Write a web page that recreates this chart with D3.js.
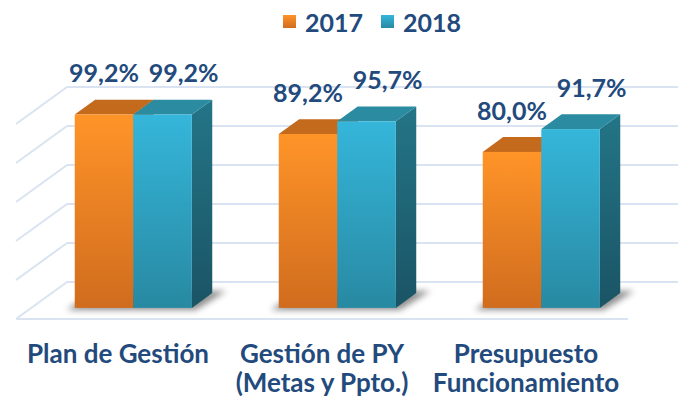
<!DOCTYPE html>
<html>
<head>
<meta charset="utf-8">
<script src="https://cdn.jsdelivr.net/npm/d3@7"></script>
<style>
  html, body { margin: 0; padding: 0; background: #ffffff; }
  svg { display: block; }
  text { font-family: Lato, "Open Sans", sans-serif; font-weight: 700; fill: #234a7d; }
</style>
</head>
<body>
<svg id="chart" width="678" height="403"></svg>
<script>
// ---- data ----
const categories = ["Plan de Gestión", "Gestión de PY\n(Metas y Ppto.)", "Presupuesto\nFuncionamiento"];
const seriesNames = ["2017", "2018"];
const values2017 = [99.2, 89.2, 80.0];
const values2018 = [99.2, 95.7, 91.7];
const valueLabels2017 = ["99,2%", "89,2%", "80,0%"];
const valueLabels2018 = ["99,2%", "95,7%", "91,7%"];
const yTicks = [0, 20, 40, 60, 80, 100];

const svg = d3.select("#chart");

// geometry of the 3D box
const floorFrontY = 319, floorLeftX = 16, floorRightX = 628;
const depthDX = 51, depthDY = -37;            // floor depth vector
const barDepthStart = 0.3, barDepthEnd = 0.7;  // bars occupy middle of depth

const x0 = d3.scaleBand().domain(categories)
  .range([floorLeftX, floorRightX]).paddingInner(0.426).paddingOuter(0.213);
const x1 = d3.scaleBand().domain(seriesNames).range([0, x0.bandwidth()]);
const yH = d3.scaleLinear().domain([0, 100]).range([0, 195]); // height in px

const colors = {
  "2017": { front: ["#ff9428", "#d06c1e"], top: "#c46a1d", side: ["#a85a18", "#8a4912"] },
  "2018": { front: ["#35b6da", "#2889a2"], top: "#2a8ba1", side: ["#237587", "#1a5465"] }
};

const defs = svg.append("defs");
seriesNames.forEach(s => {
  const gF = defs.append("linearGradient").attr("id", "front" + s)
    .attr("x1", 0).attr("y1", 0).attr("x2", 0).attr("y2", 1);
  gF.append("stop").attr("offset", "0%").attr("stop-color", colors[s].front[0]);
  gF.append("stop").attr("offset", "100%").attr("stop-color", colors[s].front[1]);
  const gS = defs.append("linearGradient").attr("id", "side" + s)
    .attr("x1", 0).attr("y1", 0).attr("x2", 0).attr("y2", 1);
  gS.append("stop").attr("offset", "0%").attr("stop-color", colors[s].side[0]);
  gS.append("stop").attr("offset", "100%").attr("stop-color", colors[s].side[1]);
});
defs.append("filter").attr("id", "blur").attr("x", "-50%").attr("y", "-50%")
  .attr("width", "200%").attr("height", "200%")
  .append("feGaussianBlur").attr("stdDeviation", 3);

// ---- gridlines ----
const grid = svg.append("g").attr("stroke", "#d9e3f2").attr("stroke-width", 2).attr("fill", "none");
const backY = v => floorFrontY + depthDY - yH(v);
yTicks.forEach(t => {
  const yb = backY(t);
  grid.append("line").attr("x1", floorLeftX + depthDX).attr("x2", floorRightX + depthDX)
    .attr("y1", yb).attr("y2", yb);
  grid.append("line").attr("x1", floorLeftX).attr("y1", yb - depthDY)
    .attr("x2", floorLeftX + depthDX).attr("y2", yb);
});
grid.append("line").attr("x1", floorLeftX).attr("x2", floorRightX)
  .attr("y1", floorFrontY).attr("y2", floorFrontY);

// ---- bars ----
const fdx = depthDX * barDepthStart, fdy = depthDY * barDepthStart;
const bdx = depthDX * (barDepthEnd - barDepthStart), bdy = depthDY * (barDepthEnd - barDepthStart);
const baseY = floorFrontY + fdy;

const rows = categories.map((c, i) => ({ c, i, v: [values2017[i], values2018[i]], l: [valueLabels2017[i], valueLabels2018[i]] }));

// shadows
const shadowG = svg.append("g").attr("filter", "url(#blur)").attr("opacity", 0.55);
rows.forEach(r => {
  const xl = x0(r.c) + fdx, xr = xl + x0.bandwidth();
  shadowG.append("path").attr("fill", "#333")
    .attr("d", `M${xl - 8},${baseY + 2} L${xr + 4},${baseY + 2} L${xr + bdx + 14},${baseY + bdy - 2} L${xl + bdx},${baseY + bdy - 2} Z`);
});

const barG = svg.append("g");
rows.forEach(r => {
  seriesNames.forEach((s, k) => {
    const v = r.v[k];
    const xl = x0(r.c) + x1(s) + fdx, w = x1.bandwidth();
    const yt = baseY - yH(v);
    const g = barG.append("g");
    g.append("path").attr("fill", `url(#side${s})`)
      .attr("d", `M${xl + w},${yt} L${xl + w + bdx},${yt + bdy} L${xl + w + bdx},${baseY + bdy} L${xl + w},${baseY} Z`);
    g.append("path").attr("fill", colors[s].top)
      .attr("d", `M${xl},${yt} L${xl + bdx},${yt + bdy} L${xl + w + bdx},${yt + bdy} L${xl + w},${yt} Z`);
    g.append("rect").attr("x", xl).attr("y", yt).attr("width", w).attr("height", yH(v))
      .attr("fill", `url(#front${s})`);
  });
});

// ---- value labels ----
const labelOffsets = [0, 21];
rows.forEach(r => {
  seriesNames.forEach((s, k) => {
    const xc = x0(r.c) + x1(s) + fdx + x1.bandwidth() / 2 + labelOffsets[k];
    svg.append("text").attr("x", xc).attr("y", baseY - yH(r.v[k]) - 32)
      .attr("text-anchor", "middle").attr("font-size", 25).text(r.l[k]);
  });
});

// ---- category labels ----
rows.forEach(r => {
  const lines = r.c.split("\n");
  const cx = x0(r.c) + x0.bandwidth() / 2;
  const t = svg.append("text").attr("text-anchor", "middle").attr("font-size", 26)
    .attr("x", cx).attr("y", 363);
  lines.forEach((ln, j) => {
    t.append("tspan").attr("x", cx).attr("dy", j === 0 ? 0 : 29).text(ln);
  });
});

// ---- legend ----
const legendX = [283, 381];
seriesNames.forEach((s, k) => {
  svg.append("rect").attr("x", legendX[k]).attr("y", 15).attr("width", 13).attr("height", 13)
    .attr("fill", `url(#front${s})`);
  svg.append("text").attr("x", legendX[k] + 22).attr("y", 32).attr("font-size", 25).text(s);
});
</script>
</body>
</html>
